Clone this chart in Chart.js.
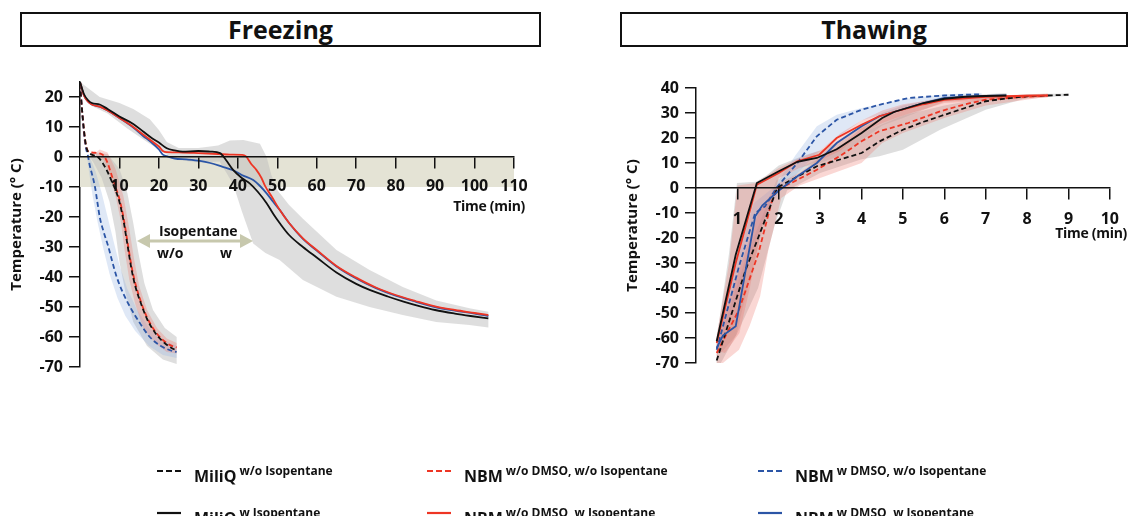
<!DOCTYPE html>
<html>
<head>
<meta charset="utf-8">
<script src="https://cdn.jsdelivr.net/npm/chart.js@4.4.1/dist/chart.umd.min.js"></script>
<style>
  body { margin: 0; width: 1130px; height: 516px; overflow: hidden; background: #fff; position: relative;
         font-family: "Open Sans", sans-serif; color: #111; font-weight: 700; }
  .box { position: absolute; top: 12px; height: 31px; border: 2px solid #111; font-size: 25px;
         text-align: center; line-height: 31px; }
  .chart { position: absolute; top: 60px; }
  .txt { position: absolute; white-space: nowrap; line-height: 1; }
  .leg { position: absolute; white-space: nowrap; font-size: 16px; line-height: 1; }
  .leg sup { font-size: 12px; vertical-align: 7px; margin-left: 3px; }
  .sample { position: absolute; }
  #overlay { position: absolute; left: 0; top: 0; pointer-events: none; }
</style>
</head>
<body>
<div class="box" style="left:20px;width:517px">Freezing</div>
<div class="box" style="left:620px;width:504px">Thawing</div>

<div class="chart" style="left:0px"><canvas id="freezeChart" width="560" height="340"></canvas></div>
<div class="chart" style="left:600px"><canvas id="thawChart" width="530" height="340"></canvas></div>

<svg id="overlay" width="1130" height="516">
  <line x1="146" y1="241" x2="244" y2="241" stroke="#c7c8ad" stroke-width="3"/>
  <polygon points="137,241 150,234 150,248" fill="#c7c8ad"/>
  <polygon points="253,241 240,234 240,248" fill="#c7c8ad"/>
</svg>
<div class="txt" style="left:159px;top:224px;font-size:14px">Isopentane</div>
<div class="txt" style="left:157px;top:246px;font-size:14px">w/o</div>
<div class="txt" style="left:220px;top:246px;font-size:14px">w</div>
<div class="txt" style="right:605px;top:199px;font-size:14px;letter-spacing:-0.3px">Time (min)</div>
<div class="txt" style="right:3px;top:226px;font-size:14px;letter-spacing:-0.3px">Time (min)</div>

<div id="legend"></div>

<script>
// Freezing curves: [time (min), temperature (°C)]
const freezeMiliqWo = [[0,24.5],[0.5,16],[1,9],[1.5,4],[2,1.8],[3,0.8],[4.5,0],[5.5,-1.5],[7,-5],[8,-8],[9,-11],[10,-15],[11,-21],[12,-29],[13,-37],[14,-43],[15.5,-49],[17,-54],[19,-58.5],[21,-61.5],[23,-63.5],[24.5,-64.5]];
const freezeNbmWo = [[0,24.5],[0.5,16],[1,9],[1.5,4],[2,2],[3,1.5],[5,1.2],[6,0.5],[7,-2],[8,-6],[9,-10],[10,-14],[11,-20],[12,-28],[13,-36],[14,-42],[15.5,-48.5],[17,-53.5],[19,-58],[21,-61],[23,-62.8],[24.5,-63.5]];
const freezeDmsoWo = [[0,24.5],[0.5,16],[1,8],[1.5,3],[2,0.5],[2.5,-3],[3,-5.5],[3.8,-10],[4.4,-15],[5,-20],[6,-25],[7.2,-30],[8.2,-35],[9.3,-40],[10.8,-45],[12.7,-50],[15,-55],[17.7,-60],[20.5,-63],[23,-64.5],[24.5,-65]];
const freezeMiliqW = [[0,25],[1,21],[2,19],[3,18],[5,17.5],[7,16],[10,13.5],[13.5,11],[16,8.5],[18,6.5],[20,4.8],[22,2.9],[24,2.2],[26,1.8],[30,2],[33,1.8],[35.5,1.3],[37,-1],[38.8,-4.3],[41,-7],[43,-8.8],[45,-11.5],[47.3,-15.4],[49,-19],[50.6,-22],[53,-26],[56.5,-30],[60,-33.5],[65,-38.5],[70,-42.3],[73.4,-44.3],[78,-46.5],[82,-48.2],[86,-49.7],[90,-51],[95,-52.2],[99,-53],[103.5,-53.8]];
const freezeNbmW = [[0,25],[1,20.5],[2,18.5],[3,17.5],[5,16.8],[7,15.5],[10,13],[13.5,10],[16,7.5],[18,5.5],[20,3.5],[21,2],[22,1.6],[26,1.5],[30,1.3],[35,1],[38,0.8],[41,0.7],[42,0.3],[43.5,-2.5],[44.7,-4.3],[46,-7],[47,-9.9],[48.5,-13],[50.6,-17.6],[53,-22],[56.5,-27.1],[60,-31],[65,-36.3],[70,-40.2],[75,-43.5],[80,-46],[85,-48],[90,-49.8],[95,-51],[100,-52],[103.5,-52.7]];
const freezeDmsoW = [[0,25],[1,20.5],[2,18.5],[3,17.5],[5,16.8],[7,15.5],[10,13],[13.5,9.8],[16,7],[18,5],[20,2.5],[21,0.8],[22,0.3],[24,-0.5],[27,-0.8],[30.4,-1.3],[33,-2],[36,-3.2],[38.8,-4.4],[41,-6],[43.9,-7.7],[45.5,-9.5],[47.3,-12.1],[49,-15],[50.6,-17.6],[53,-22],[56.5,-27.3],[60,-31.2],[65,-36.5],[70,-40.5],[75,-43.7],[80,-46.2],[85,-48.2],[90,-50],[95,-51.2],[100,-52.2],[103.5,-53]];

// Freezing spread bands (outline polygons)
const freezeBandMiliqW = [[0,25],[5,20],[10,18],[13.5,16],[17.7,12.6],[20,9],[22,5],[25,3],[30,3],[35,3.8],[38,5.5],[41.4,5.7],[45.6,4.4],[47.3,0],[48.5,-6],[50,-11],[53,-16],[56.5,-20.6],[65,-31],[73.4,-37.7],[81.8,-43.3],[90.3,-47.8],[98.7,-50.4],[103.5,-51.6],[103.5,-56.8],[98.7,-56],[90.3,-55],[81.8,-52.7],[73.4,-50],[65,-46.6],[56.5,-41],[50.6,-34.3],[47,-32],[43.9,-28.8],[41,-18],[38.8,-9],[35.4,-1.5],[30,-1.8],[25,-1],[22,0.8],[17,5],[12,9.5],[7,14.5],[3,17],[0,24]];
const freezeBandMiliqWo = [[2.5,1],[4,1.5],[7,1],[10,-4],[12,-12],[13.5,-22],[14.8,-32],[16.3,-42],[18.5,-51],[21.5,-57],[24.5,-60],[24.5,-69],[21,-67.5],[17,-63],[13.5,-55],[11.5,-45],[10,-35],[9,-25],[7.5,-15],[5.5,-7],[3.5,-2],[2.5,0]];
const freezeBandNbmWo = [[4,1.5],[5,2.5],[7,1.5],[9,-4],[11,-13],[12.5,-24],[13.7,-34],[15,-43],[17,-51],[19.5,-57],[22,-60.5],[24.5,-62],[24.5,-65.5],[22,-65],[19,-62],[16,-57],[14,-49],[12.5,-41],[11.3,-31],[10.3,-21],[9,-13],[7.5,-6],[6,-1],[4,0.5]];
const freezeBandDmsoWo = [[2.5,0],[4,-5],[5.5,-12],[7,-20],[8.5,-28],[10,-36],[12,-44],[14.5,-51],[17.5,-57],[21,-61],[24.5,-63],[24.5,-67],[21,-66],[17.5,-63],[14,-58],[11.5,-53],[9.5,-47],[7.5,-39],[6,-31],[4.5,-22],[3.2,-13],[2.3,-5],[1.8,0]];
const freezeZone = [[0,-10],[110,-10]];

// Thawing curves: [time (min), temperature (°C)]
const thawMiliqWo = [[0.5,-69],[1.2,-32.7],[1.5,-20],[1.94,-1],[2,0.5],[2.5,5],[2.92,8.7],[3.5,11.5],[4,14],[4.43,18.6],[5,23.3],[5.5,26.5],[5.9,28.7],[6.5,32],[7,34.7],[7.5,35.8],[8,36.7],[8.5,37],[9,37.3]];
const thawMiliqW = [[0.5,-61.3],[0.96,-26.7],[1.47,2],[2,6.7],[2.45,10.5],[2.6,11],[2.92,12],[3.4,15.5],[4,22],[4.5,28],[4.8,30.5],[5.5,34],[6,35.7],[6.5,36.5],[7,36.8],[7.5,37]];
const thawNbmWo = [[0.5,-66],[1.04,-48.7],[1.51,-26],[1.82,-6],[1.94,-0.7],[2.3,2],[2.92,7.3],[3.5,13],[4,18.7],[4.43,22.7],[5.13,26],[5.91,30.7],[6.5,33.5],[7,35.3],[7.5,36],[7.95,36.5],[8.5,37]];
const thawNbmW = [[0.5,-62],[0.96,-30],[1.47,1.3],[2,6],[2.45,10.7],[2.98,13.3],[3.4,20],[4,25.3],[4.43,28.7],[4.8,30.5],[5.5,33.5],[6,35.3],[7,36.5],[8,36.9],[8.5,37]];
const thawDmsoWo = [[0.5,-64.7],[1.04,-31.3],[1.43,-10],[1.67,-7.3],[1.94,0],[2.45,10],[2.92,20.7],[3.4,27.3],[4,31.3],[4.43,33.3],[4.8,34.7],[5.13,36],[6,37],[6.9,37.5]];
const thawDmsoW = [[0.5,-64],[0.65,-59],[0.96,-55.3],[1.43,-11.3],[1.6,-7],[1.98,-1.3],[2.45,4.7],[2.92,10],[3.4,18],[4,24.7],[4.43,28.7],[4.8,30.5],[5.5,34],[6,36],[7,36.8],[7.5,37]];

// Thawing spread bands
const thawBandMiliqW = [[0.5,-60],[0.8,-26],[0.99,2],[1.45,2.5],[1.7,5],[2,9],[2.6,13],[3,15],[3.5,19],[4,25],[4.5,30],[5,33],[6,36.5],[7.5,38],[7.5,36],[6,34.5],[5,28],[4.5,25],[4,19],[3.5,13],[3,10],[2.5,8],[2,4],[1.55,-20],[1.16,-46],[0.97,-59],[0.6,-66],[0.5,-65]];
const thawBandNbmW = [[0.5,-59],[0.8,-30],[1.0,1],[1.45,2],[2,8],[2.5,12],[3,15],[3.5,22],[4,27],[4.5,31],[5,33.5],[6,36],[8.5,37.8],[8.5,36.2],[6,34],[5,29],[4.5,26],[4,22],[3.5,15],[3,11],[2.5,8],[2,3.5],[1.6,-15],[1.3,-40],[1.05,-58],[0.7,-66],[0.5,-65]];
const thawBandMiliqWo = [[0.5,-64],[1.2,-28],[1.94,3],[2.5,8],[3,12],[4,22],[5,29],[6,33],[7,36],[8,37.5],[9,37.8],[9,36.8],[8,36],[7,31.3],[5.9,23.3],[5,15.3],[4.43,12.7],[4,11.5],[3,6],[2.2,-1],[1.9,-15],[1.5,-40],[1,-58],[0.6,-70],[0.5,-70]];
const thawBandNbmWo = [[0.5,-60],[1,-35],[1.5,-10],[2,2],[2.5,6],[3,12],[3.5,17],[4,24],[4.5,28],[5,31],[6,35],[7,37],[8.5,37.5],[8.5,36.5],[7,33],[6,28],[5,22],[4.5,18],[4,10],[3,4],[2.5,1],[2.06,-4],[1.75,-24.7],[1.55,-43.3],[1.3,-55],[1.04,-64.7],[0.65,-70],[0.5,-70]];
const thawBandDmsoWo = [[0.5,-62],[1,-28],[1.4,-6],[1.9,0.5],[2.4,13],[2.92,24.7],[3.4,29.3],[4,32],[5,35.5],[6,37.5],[6.9,38],[6.9,37],[6,35.5],[5,32],[4,27],[3.4,20],[2.92,14],[2.4,5],[2,-1.5],[1.6,-14],[1.1,-38],[0.5,-67]];

const freezeXTicks = [10, 20, 30, 40, 50, 60, 70, 80, 90, 100, 110];
const freezeYTicks = [-70, -60, -50, -40, -30, -20, -10, 0, 10, 20];
const thawXTicks = [1, 2, 3, 4, 5, 6, 7, 8, 9, 10];
const thawYTicks = [-70, -60, -50, -40, -30, -20, -10, 0, 10, 20, 30, 40];

const legendItems = [
  { name: 'MiliQ', sup: 'w/o Isopentane', color: '#111111', dashed: true, col: 0, row: 0 },
  { name: 'MiliQ', sup: 'w Isopentane', color: '#111111', dashed: false, col: 0, row: 1 },
  { name: 'NBM', sup: 'w/o DMSO, w/o Isopentane', color: '#ee3524', dashed: true, col: 1, row: 0 },
  { name: 'NBM', sup: 'w/o DMSO, w Isopentane', color: '#ee3524', dashed: false, col: 1, row: 1 },
  { name: 'NBM', sup: 'w DMSO, w/o Isopentane', color: '#2b55a6', dashed: true, col: 2, row: 0 },
  { name: 'NBM', sup: 'w DMSO, w Isopentane', color: '#2b55a6', dashed: false, col: 2, row: 1 }
];

const BLACK = '#111111', RED = '#ee3524', BLUE = '#2b55a6';
const GREY_BAND = 'rgba(190,190,190,0.5)';
const RED_BAND = 'rgba(238,110,100,0.28)';
const BLUE_BAND = 'rgba(150,178,225,0.3)';
const ZONE = '#e4e3d5';
const FONT = 'Open Sans';

const pts = arr => arr.map(([x, y]) => ({ x, y }));

function line(data, color, dashed, smooth) {
  return {
    data: pts(data), borderColor: color, borderWidth: 1.8, borderDash: dashed ? [5, 3] : [],
    fill: false, pointRadius: 0, tension: 0,
    cubicInterpolationMode: smooth ? 'monotone' : 'default', order: 0
  };
}

function band(data, color, order) {
  return {
    data: pts(data), borderWidth: 0, borderColor: 'rgba(0,0,0,0)', backgroundColor: color,
    fill: 'shape', pointRadius: 0, tension: 0, order: order
  };
}

function makeOptions(cfg) {
  const tickFont = { family: FONT, size: 16, weight: 'bold' };
  return {
    responsive: false,
    animation: false,
    layout: { padding: cfg.padding },
    plugins: { legend: { display: false }, tooltip: { enabled: false } },
    scales: {
      x: {
        type: 'linear', position: { y: 0 }, min: cfg.xMin, max: cfg.xMax,
        afterBuildTicks: s => { s.ticks = cfg.xTicks.map(v => ({ value: v })); },
        grid: { drawOnChartArea: false, drawTicks: true, tickLength: 11, color: BLACK, lineWidth: 1.5, z: 1 },
        border: { color: BLACK, width: 1.5, z: 1 },
        ticks: { padding: cfg.xPad, color: BLACK, font: tickFont, maxRotation: 0, autoSkip: false, z: 1 }
      },
      y: {
        type: 'linear', position: 'left', min: cfg.yMin, max: cfg.yMax,
        afterBuildTicks: s => { s.ticks = cfg.yTicks.map(v => ({ value: v })); },
        afterFit: s => { s.width = cfg.yWidth; },
        grid: { drawOnChartArea: false, drawTicks: true, tickLength: 11, color: BLACK, lineWidth: 1.5 },
        border: { color: BLACK, width: 1.5 },
        ticks: { padding: 6, color: BLACK, font: tickFont, autoSkip: false },
        title: { display: true, text: 'Temperature (° C)', color: BLACK,
                 font: { family: FONT, size: 15, weight: 'bold' }, padding: { top: cfg.titlePad, bottom: 0 } }
      }
    }
  };
}

function renderFreezing() {
  new Chart(document.getElementById('freezeChart'), {
    type: 'line',
    data: {
      datasets: [
        line(freezeMiliqW, BLACK, false, true),
        line(freezeNbmW, RED, false, true),
        line(freezeDmsoW, BLUE, false, true),
        line(freezeMiliqWo, BLACK, true, true),
        line(freezeNbmWo, RED, true, true),
        line(freezeDmsoWo, BLUE, true, true),
        band(freezeBandNbmWo, RED_BAND, 1),
        band(freezeBandDmsoWo, BLUE_BAND, 1),
        band(freezeBandMiliqW, GREY_BAND, 2),
        band(freezeBandMiliqWo, GREY_BAND, 2),
        { data: pts(freezeZone), borderWidth: 0, backgroundColor: ZONE, fill: 'origin', pointRadius: 0, order: 3 }
      ]
    },
    options: makeOptions({
      padding: { left: 0, right: 46, top: 22, bottom: 33 },
      xMin: 0, xMax: 110, xTicks: freezeXTicks, xPad: 9,
      yMin: -70, yMax: 25, yTicks: freezeYTicks, yWidth: 80, titlePad: 8
    })
  });
}

function renderThawing() {
  new Chart(document.getElementById('thawChart'), {
    type: 'line',
    data: {
      datasets: [
        line(thawMiliqW, BLACK, false, false),
        line(thawNbmW, RED, false, false),
        line(thawDmsoW, BLUE, false, false),
        line(thawMiliqWo, BLACK, true, false),
        line(thawNbmWo, RED, true, false),
        line(thawDmsoWo, BLUE, true, false),
        band(thawBandNbmWo, RED_BAND, 1),
        band(thawBandNbmW, RED_BAND, 1),
        band(thawBandDmsoWo, BLUE_BAND, 1),
        band(thawBandMiliqW, GREY_BAND, 2),
        band(thawBandMiliqWo, GREY_BAND, 2)
      ]
    },
    options: makeOptions({
      padding: { left: 0, right: 10, top: 28, bottom: 37 },
      xMin: 0, xMax: 10, xTicks: thawXTicks, xPad: 11,
      yMin: -70, yMax: 40, yTicks: thawYTicks, yWidth: 96, titlePad: 24
    })
  });
}

function renderLegend() {
  const cols = [157, 427, 758];
  const rows = [471, 513];
  document.querySelector('#legend').innerHTML = legendItems.map(it => {
    const x = cols[it.col], y = rows[it.row];
    return `<svg class="sample" style="left:${x}px;top:${y - 2}px" width="24" height="4">
        <line x1="0" y1="2" x2="24" y2="2" stroke="${it.color}" stroke-width="2.2" ${it.dashed ? 'stroke-dasharray="6,3"' : ''}/></svg>
      <div class="leg" style="left:${x + 37}px;top:${y - 6}px">${it.name}<sup>${it.sup}</sup></div>`;
  }).join('');
}

document.addEventListener('DOMContentLoaded', () => {
  renderFreezing();
  renderThawing();
  renderLegend();
});
</script>
</body>
</html>
